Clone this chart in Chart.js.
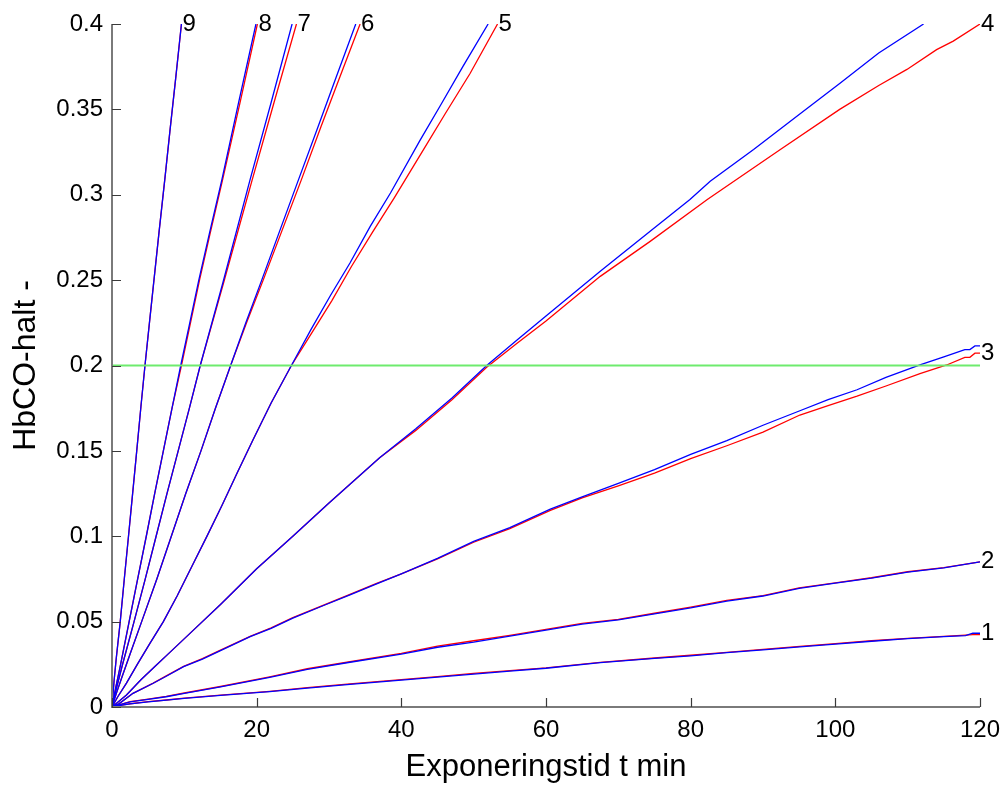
<!DOCTYPE html>
<html>
<head>
<meta charset="utf-8">
<script src="https://cdn.jsdelivr.net/npm/chart.js@4.4.1/dist/chart.umd.min.js"></script>
<style>
html,body{margin:0;padding:0;background:#fff;}
#wrap{position:relative;width:1006px;height:789px;}
</style>
</head>
<body>
<div id="wrap"><canvas id="c" width="1006" height="789"></canvas></div>
<script>
// ---- data ----
const xTicks = [0,20,40,60,80,100,120];
const yTicks = [0,0.05,0.1,0.15,0.2,0.25,0.3,0.35,0.4];
const xTitle = 'Exponeringstid t min';
const yTitle = 'HbCO-halt -';

const c1tB = [0,1,2.5,5,7.5,10,15,21.8,27,32.9,40,45,50,55,60,67.5,75,80,85,90,95.1,100,105,110,115,118,119,120];
const c1yB = [0,0.0008,0.0018,0.003,0.004,0.005,0.0068,0.009,0.011,0.0133,0.0157,0.0175,0.0193,0.021,0.0227,0.026,0.0285,0.030,0.0318,0.0335,0.0352,0.0368,0.0385,0.040,0.0412,0.0418,0.0432,0.0432];
const c1tR = c1tB;
const c1yR = [0,0.0009,0.0019,0.0031,0.0041,0.0052,0.007,0.0092,0.0113,0.0136,0.016,0.0178,0.0197,0.0213,0.0229,0.0261,0.0287,0.0303,0.032,0.0337,0.0355,0.0371,0.0388,0.0402,0.0414,0.0421,0.0424,0.0424];

const c2tB = [0,1,2.5,5,7.5,10,15,21.8,27,32.9,40,45,50,55,60,65,70,75,80,85,90,95,100,105,110,115,120];
const c2yB = [0,0.0012,0.003,0.0045,0.006,0.008,0.0118,0.0174,0.022,0.0262,0.031,0.035,0.038,0.0415,0.045,0.0485,0.051,0.0545,0.058,0.062,0.065,0.0695,0.0725,0.0755,0.079,0.0815,0.085];
const c2tR = c2tB;
const c2yR = [0,0.0013,0.0031,0.0046,0.0062,0.0082,0.012,0.0177,0.0224,0.0265,0.0314,0.0356,0.0388,0.0419,0.0454,0.049,0.0513,0.0549,0.0585,0.0624,0.0652,0.0698,0.0727,0.0757,0.0792,0.0816,0.085];

const c3tB = [0,1,2.9,5.7,7.5,9.9,12.5,15,19.1,22,25,29,32.9,36.5,40,45,50,55,60.6,65,70,75,80,85,90,95.1,99,103,107,111.7,115,117.9,118.6,119.3,120];
const c3yB = [0,0.002,0.008,0.0139,0.018,0.0236,0.028,0.033,0.0412,0.046,0.052,0.059,0.0657,0.072,0.078,0.087,0.097,0.105,0.1159,0.123,0.131,0.139,0.148,0.156,0.165,0.1735,0.18,0.1858,0.193,0.2003,0.205,0.2093,0.2093,0.2115,0.2115];
const c3tR = [0,1,2.9,5.7,7.5,9.9,12.5,15,19.1,22,25,29,32.9,36.5,40,45,50,55,60.6,65,70,75,80,85,90,95.1,99,103,107,111.7,115.4,117.9,118.6,119.3,120];
const c3yR = [0,0.002,0.008,0.014,0.0182,0.0238,0.0283,0.0333,0.0414,0.0463,0.0523,0.0592,0.066,0.0722,0.078,0.0868,0.0965,0.1045,0.1152,0.1225,0.1295,0.137,0.1455,0.153,0.161,0.171,0.1765,0.182,0.188,0.1953,0.2003,0.2048,0.2048,0.2072,0.2072];

const c4tB = [0,2,4,6,8,11,15,20,25,30,32.9,37,42,47,51.8,56,60,67.5,74.4,79.9,82.7,88.7,95,100.6,106,112.2];
const c4yB = [0,0.007,0.016,0.024,0.032,0.044,0.06,0.081,0.1,0.1195,0.1305,0.146,0.163,0.181,0.2,0.215,0.229,0.2552,0.2786,0.2972,0.3079,0.3265,0.347,0.3652,0.383,0.4];
const c4tR = [0,2,4,6,8,11,15,20,25,30,32.9,37,42,47,51.8,56,60,67.5,74.4,82.3,92.4,100.6,106,109.9,114,116.3,120];
const c4yR = [0,0.007,0.016,0.024,0.032,0.044,0.06,0.081,0.1,0.1195,0.1305,0.146,0.162,0.18,0.199,0.213,0.226,0.2522,0.2727,0.2972,0.3265,0.350,0.364,0.3734,0.385,0.390,0.4];

const c5tB = [0,0.8,2.0,3.5,5.2,7.1,9.0,11.0,13.1,15.2,17.3,19.5,22.0,24.8,27.5,30.2,32.9,35.7,38.5,42.6,45.5,48.5,52.0];
const c5yB = [0,0.006,0.014,0.025,0.037,0.05,0.065,0.082,0.0998,0.118,0.137,0.1565,0.178,0.2,0.221,0.241,0.260,0.2815,0.301,0.332,0.353,0.375,0.4];
const c5tR = [0,0.8,2.0,3.5,5.2,7.1,9.0,11.0,13.1,15.2,17.3,19.5,22.0,24.8,27.6,30.4,33.1,36.0,39.0,43.0,46.0,49.5,53.3];
const c5yR = [0,0.006,0.014,0.025,0.037,0.05,0.065,0.082,0.0998,0.118,0.137,0.1565,0.178,0.2,0.219,0.238,0.258,0.278,0.298,0.326,0.347,0.371,0.4];

const c6tB = [0,0.6,1.5,2.5,4.1,6.2,8.2,10.2,12.3,14.3,16.4,18.5,20.7,23.2,25.8,28.5,31.0,33.7];
const c6yB = [0,0.008,0.019,0.031,0.05,0.075,0.10,0.125,0.15,0.175,0.2,0.225,0.25,0.279,0.309,0.34,0.369,0.4];
const c6tR = [0,0.6,1.5,2.5,4.1,6.2,8.2,10.2,12.3,14.3,16.4,18.6,20.9,23.5,26.2,28.9,31.5,34.3];
const c6yR = c6yB;

const c7tB = [0,0.5,1.4,3.05,4.6,6.1,7.6,9.15,10.7,12.2,15.3,19.1,22.0,24.9];
const c7yB = [0,0.009,0.024,0.05,0.075,0.10,0.125,0.15,0.175,0.2,0.248,0.309,0.354,0.4];
const c7tR = [0,0.5,1.4,3.05,4.6,6.1,7.6,9.15,10.7,12.2,15.4,19.4,22.4,25.5];
const c7yR = c7yB;

const c8tB = [0,0.5,1.1,2.37,3.55,4.74,5.9,7.1,8.3,9.5,10.7,12.0,13.5,15.2,17.5,19.9];
const c8yB = [0,0.011,0.023,0.05,0.075,0.10,0.125,0.15,0.175,0.2,0.224,0.25,0.278,0.309,0.354,0.4];
const c8tR = [0,0.5,1.1,2.37,3.55,4.74,5.9,7.1,8.3,9.6,10.8,12.1,13.6,15.3,17.7,20.1];
const c8yR = c8yB;

const c9tB = [0,0.3,0.6,1.14,1.7,2.28,2.85,3.42,4.0,4.56,5.2,5.8,6.5,7.3,8.0,8.8,9.6];
const c9yB = [0,0.016,0.029,0.05,0.075,0.10,0.125,0.15,0.176,0.2,0.226,0.25,0.278,0.309,0.337,0.368,0.4];
const c9tR = c9tB;
const c9yR = c9yB;

const limitT = [0,120];
const limitY = [0.2,0.2];

const curveLabels = ['1','2','3','4','5','6','7','8','9'];
const labelT = [120,120,120,120,53.3,34.3,25.5,20.1,9.6];
const labelY = [0.0432,0.085,0.2072,0.4,0.4,0.4,0.4,0.4,0.4];

// ---- build datasets ----
const pts = (t,y) => t.map((v,i)=>({x:v,y:y[i]}));
const curves = [
  [c1tB,c1yB,c1tR,c1yR],[c2tB,c2yB,c2tR,c2yR],[c3tB,c3yB,c3tR,c3yR],
  [c4tB,c4yB,c4tR,c4yR],[c5tB,c5yB,c5tR,c5yR],[c6tB,c6yB,c6tR,c6yR],
  [c7tB,c7yB,c7tR,c7yR],[c8tB,c8yB,c8tR,c8yR],[c9tB,c9yB,c9tR,c9yR]
];
const datasets = [];
datasets.push({label:'limit',data:pts(limitT,limitY),borderColor:'rgb(110,235,110)',borderWidth:2.2,order:0});
curves.forEach((c,i)=>{
  datasets.push({label:'blue'+(i+1),data:pts(c[0],c[1]),borderColor:'#0000ff',borderWidth:1.3,order:1});
});
curves.forEach((c,i)=>{
  datasets.push({label:'red'+(i+1),data:pts(c[2],c[3]),borderColor:'#ff0000',borderWidth:1.3,order:2});
});

const L=112, R=980, T=24, B=707, W=1006, H=789;
const FONT='"Liberation Sans", Arial, sans-serif';

const decor = {
  id:'decor',
  afterDatasetsDraw(chart){
    const ctx=chart.ctx, xs=chart.scales.x, ys=chart.scales.y;
    ctx.save();
    ctx.strokeStyle='#7a7a7a'; ctx.lineWidth=2;
    ctx.beginPath();
    ctx.moveTo(xs.left, ys.top); ctx.lineTo(xs.left, ys.bottom); ctx.lineTo(xs.right, ys.bottom);
    ctx.stroke();
    ctx.strokeStyle='#3a3a3a'; ctx.lineWidth=1.2;
    ctx.beginPath();
    xTicks.forEach(v=>{const p=Math.round(xs.getPixelForValue(v))+0.5; ctx.moveTo(p,ys.bottom); ctx.lineTo(p,ys.bottom-9);});
    yTicks.forEach(v=>{const p=Math.round(ys.getPixelForValue(v))+0.5; ctx.moveTo(xs.left,p); ctx.lineTo(xs.left+9,p);});
    ctx.stroke();
    ctx.fillStyle='#000'; ctx.font='24px '+FONT;
    ctx.textAlign='left'; ctx.textBaseline='middle';
    curveLabels.forEach((s,i)=>{
      ctx.fillText(s, xs.getPixelForValue(labelT[i])+1, ys.getPixelForValue(labelY[i]));
    });
    ctx.restore();
  }
};

new Chart(document.getElementById('c'),{
  type:'line',
  data:{datasets},
  options:{
    responsive:false, animation:false,
    layout:{padding:{left:0,right:W-R,top:T,bottom:0}},
    elements:{point:{radius:0},line:{tension:0}},
    plugins:{legend:{display:false},tooltip:{enabled:false}},
    scales:{
      x:{type:'linear',min:0,max:120,
         afterFit(s){s.height=H-B; s.paddingLeft=0; s.paddingRight=0;},
         afterBuildTicks(s){s.ticks=xTicks.map(v=>({value:v}));},
         grid:{display:false,drawTicks:false},border:{display:false},
         ticks:{padding:9,color:'#000',font:{family:FONT,size:24},maxRotation:0,callback:v=>String(v)},
         title:{display:true,text:xTitle,color:'#000',font:{family:FONT,size:31},padding:{top:0,bottom:3}}
      },
      y:{type:'linear',min:0,max:0.4,
         afterFit(s){s.width=L; s.paddingTop=0; s.paddingBottom=0;},
         afterBuildTicks(s){s.ticks=yTicks.map(v=>({value:v}));},
         grid:{display:false,drawTicks:false},border:{display:false},
         ticks:{padding:9,color:'#000',font:{family:FONT,size:24},callback:v=>String(v)},
         title:{display:true,text:yTitle,color:'#000',font:{family:FONT,size:32},padding:{top:7,bottom:0}}
      }
    }
  },
  plugins:[decor]
});
</script>
</body>
</html>
